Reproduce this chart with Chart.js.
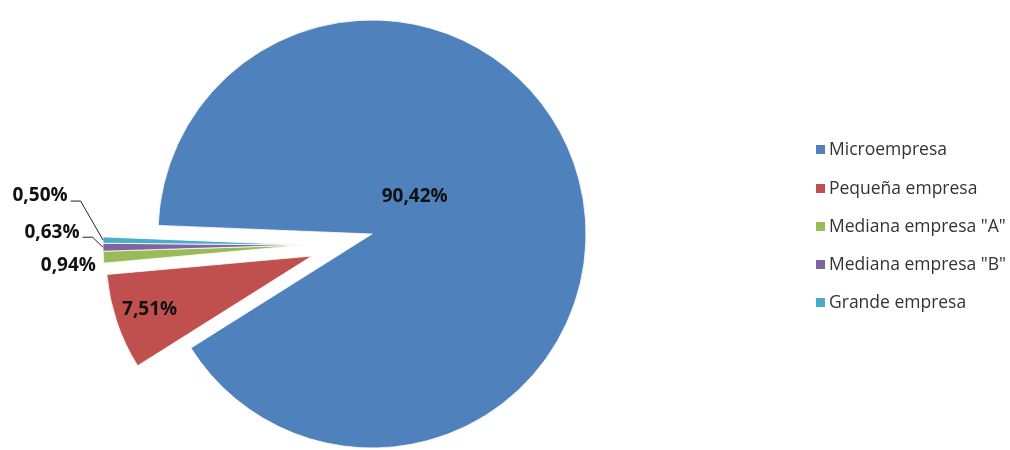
<!DOCTYPE html>
<html><head><meta charset="utf-8">
<script src="https://cdn.jsdelivr.net/npm/chart.js@4/dist/chart.umd.min.js"></script>
<style>
html,body{margin:0;padding:0;background:#fff;}
#wrap{position:relative;width:1010px;height:450px;overflow:hidden;}
canvas{position:absolute;left:0;top:0;}
#legend{position:absolute;left:816px;top:0;font-family:"Open Sans",sans-serif;font-size:17.5px;color:#333;}
.item{position:absolute;left:0;white-space:nowrap;height:24px;line-height:24px;}
.sw{display:inline-block;width:9px;height:9px;margin-right:4px;vertical-align:middle;position:relative;top:-1px;}
</style></head><body>
<div id="wrap"><div id="legend"></div></div>
<script>
const categories = ['Microempresa', 'Pequeña empresa', 'Mediana empresa "A"', 'Mediana empresa "B"', 'Grande empresa'];
const shares = [90.42, 7.51, 0.94, 0.63, 0.50];
const shareLabels = ['90,42%', '7,51%', '0,94%', '0,63%', '0,50%'];
const colors = ['#4F81BD', '#C0504D', '#9BBB59', '#8064A2', '#4BACC6'];

// explosion groups: each group of slices is pulled out as one piece
const sliceGroup = [0, 1, 2, 2, 2];

// layout of each exploded group (apex position and radius, in pixels)
const groupLayout = [
  {cx: 372, cy: 234, r: 214},
  {cx: 312, cy: 256, r: 206},
  {cx: 305, cy: 245, r: 202}
];

// label placement (layout only)
const labelPlace = [
  {mode: 'inside', ang: -41.5, dist: 57},
  {mode: 'inside', ang: 161.7, dist: 171},
  {mode: 'tip', dx: -35, dy: 8, leader: false},
  {mode: 'tip', dx: -51, dy: -15, leader: true},
  {mode: 'tip', dx: -63, dy: -44, leader: true}
];

const W = 1010, H = 450;

const labelPlugin = {
  id: 'pctLabels',
  afterDatasetsDraw(chart, args, opts) {
    const ctx = chart.ctx;
    const meta = chart.getDatasetMeta(0);
    ctx.save();
    ctx.font = 'bold 19px "Open Sans", sans-serif';
    ctx.fillStyle = '#111';
    ctx.textAlign = 'center';
    ctx.textBaseline = 'middle';
    meta.data.forEach((el, i) => {
      if (sliceGroup[i] !== opts.group) return;
      const p = el.getProps(['x', 'y', 'startAngle', 'endAngle', 'outerRadius']);
      const half = (p.startAngle + p.endAngle) / 2;
      const pl = labelPlace[i];
      let lx, ly;
      if (pl.mode === 'inside') {
        const a = pl.ang * Math.PI / 180;
        lx = p.x + Math.cos(a) * pl.dist;
        ly = p.y + Math.sin(a) * pl.dist;
      } else {
        const tx = p.x + Math.cos(half) * p.outerRadius;
        const ty = p.y + Math.sin(half) * p.outerRadius;
        lx = tx + pl.dx;
        ly = ty + pl.dy;
        if (pl.leader) {
          const w = ctx.measureText(shareLabels[i]).width;
          const sx = lx + w / 2 + 3;
          const sy = ly + 5;
          ctx.beginPath();
          ctx.strokeStyle = '#222';
          ctx.lineWidth = 1;
          ctx.moveTo(sx, sy);
          ctx.lineTo(sx + 10, sy);
          ctx.lineTo(tx, ty);
          ctx.stroke();
        }
      }
      ctx.fillText(shareLabels[i], lx, ly);
    });
    ctx.restore();
  }
};

const wrap = document.getElementById('wrap');
const legendDiv = document.getElementById('legend');

groupLayout.forEach((g, gi) => {
  const cv = document.createElement('canvas');
  cv.width = W; cv.height = H;
  wrap.insertBefore(cv, legendDiv);
  // place the pie centre at the group's apex through the chart-area padding
  const pad = {
    left: g.cx > W / 2 ? 2 * g.cx - W : 0,
    right: g.cx < W / 2 ? W - 2 * g.cx : 0,
    top: g.cy > H / 2 ? 2 * g.cy - H : 0,
    bottom: g.cy < H / 2 ? H - 2 * g.cy : 0
  };
  new Chart(cv, {
    type: 'pie',
    data: {
      labels: categories,
      datasets: [{
        data: shares,
        backgroundColor: colors.map((c, i) => sliceGroup[i] === gi ? c : 'rgba(0,0,0,0)'),
        borderColor: '#ffffff',
        borderWidth: sliceGroup.map(s => s === gi ? 0.8 : 0),
        radius: g.r,
        clip: false
      }]
    },
    options: {
      responsive: false,
      animation: false,
      rotation: 272.3,
      layout: {padding: pad},
      plugins: {legend: {display: false}, tooltip: {enabled: false}, pctLabels: {group: gi}}
    },
    plugins: [labelPlugin]
  });
});

const rowTop = [136, 175, 213, 251, 289];
categories.forEach((name, i) => {
  const d = document.createElement('div');
  d.className = 'item';
  d.style.top = rowTop[i] + 'px';
  const s = document.createElement('span');
  s.className = 'sw';
  s.style.background = colors[i];
  d.appendChild(s);
  d.appendChild(document.createTextNode(name));
  legendDiv.appendChild(d);
});
</script>
</body></html>
